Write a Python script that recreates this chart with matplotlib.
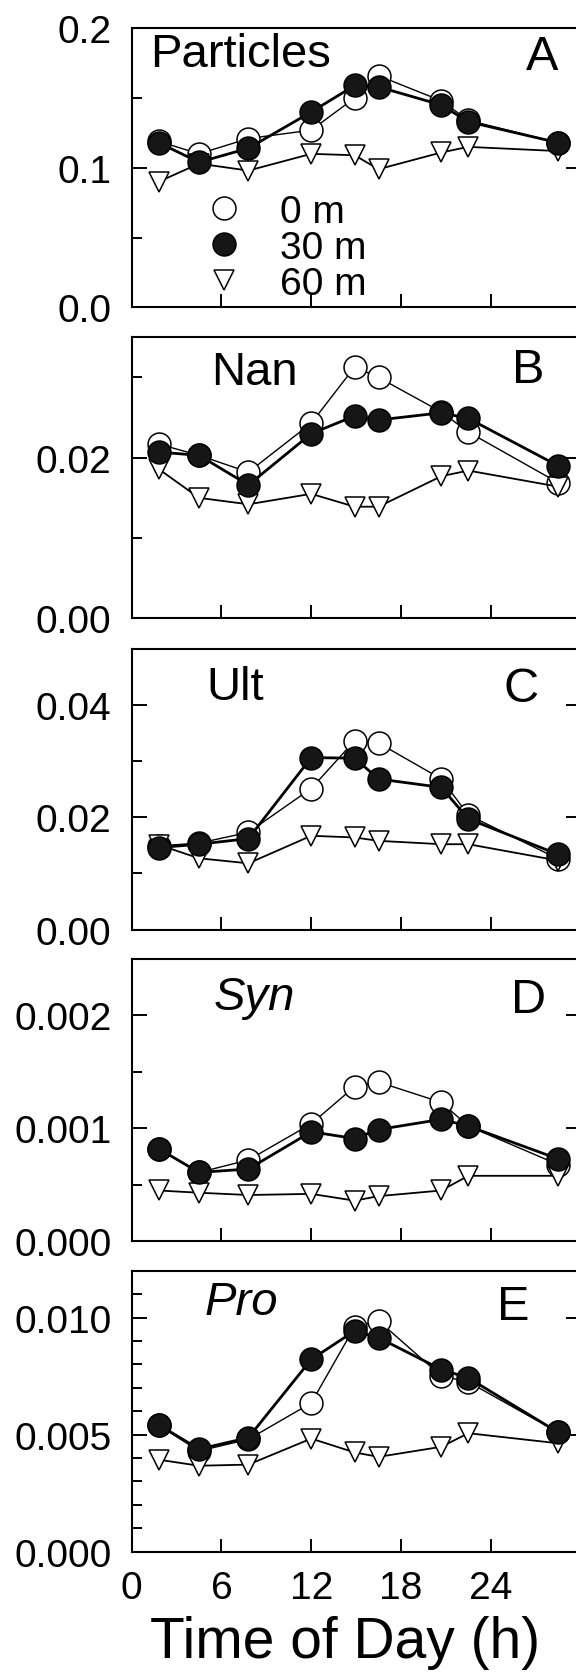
import matplotlib
matplotlib.use("Agg")
import matplotlib.pyplot as plt
from matplotlib.ticker import MultipleLocator, FormatStrFormatter
from matplotlib.lines import Line2D

plt.rcParams['font.family'] = ['Liberation Sans', 'DejaVu Sans']

# Sampling times (h)
hours = [1.8, 4.5, 7.8, 12.0, 14.9, 16.5, 20.7, 22.5, 28.5]
depth_labels = ['0 m', '30 m', '60 m']

# A: total particles
particles_0m = [0.119, 0.110, 0.121, 0.127, 0.150, 0.166, 0.148, 0.134, 0.118]
particles_30m = [0.118, 0.104, 0.114, 0.140, 0.159, 0.158, 0.145, 0.133, 0.118]
particles_60m = [0.090, 0.103, 0.098, 0.110, 0.109, 0.099, 0.111, 0.115, 0.112]

# B: nanoplankton
nan_0m = [0.0217, 0.0203, 0.0182, 0.0243, 0.0313, 0.0300, 0.0257, 0.0232, 0.0169]
nan_30m = [0.0207, 0.0203, 0.0166, 0.0230, 0.0252, 0.0247, 0.0256, 0.0249, 0.0190]
nan_60m = [0.0186, 0.0150, 0.0142, 0.0155, 0.0139, 0.0139, 0.0177, 0.0184, 0.0164]

# C: ultraplankton
ult_0m = [0.0149, 0.0154, 0.0173, 0.0251, 0.0336, 0.0332, 0.0268, 0.0204, 0.0126]
ult_30m = [0.0146, 0.0152, 0.0162, 0.0306, 0.0305, 0.0268, 0.0253, 0.0197, 0.0134]
ult_60m = [0.0151, 0.0127, 0.0118, 0.0167, 0.0164, 0.0158, 0.0152, 0.0152, 0.0123]

# D: Synechococcus
syn_0m = [0.00082, 0.00061, 0.00072, 0.00104, 0.00137, 0.00141, 0.00123, 0.00102, 0.00068]
syn_30m = [0.00082, 0.00061, 0.00064, 0.00097, 0.00091, 0.00099, 0.00108, 0.00102, 0.00073]
syn_60m = [0.00045, 0.00043, 0.00041, 0.00042, 0.00036, 0.00040, 0.00045, 0.00058, 0.00058]

# E: Prochlorococcus
pro_0m = [0.0054, 0.0043, 0.0048, 0.00635, 0.0096, 0.00986, 0.0075, 0.00725, 0.0051]
pro_30m = [0.00542, 0.00438, 0.00487, 0.00821, 0.00943, 0.00914, 0.00778, 0.00742, 0.0051]
pro_60m = [0.00393, 0.00367, 0.00372, 0.00483, 0.00424, 0.00405, 0.00448, 0.00506, 0.00463]

panel_names = ['Particles', 'Nan', 'Ult', 'Syn', 'Pro']
panel_letters = ['A', 'B', 'C', 'D', 'E']
x_ticks = [0, 6, 12, 18, 24]

series = [
    (particles_0m, particles_30m, particles_60m),
    (nan_0m, nan_30m, nan_60m),
    (ult_0m, ult_30m, ult_60m),
    (syn_0m, syn_30m, syn_60m),
    (pro_0m, pro_30m, pro_60m),
]

# per-panel axis settings: ylim top, labelled step, minor step, label format
axis_spec = [
    (0.2, 0.1, 0.05, '%.1f'),
    (0.035, 0.02, 0.01, '%.2f'),
    (0.05, 0.02, 0.01, '%.2f'),
    (0.0025, 0.001, 0.0005, '%.3f'),
    (0.012, 0.005, 0.001, '%.3f'),
]

# name / letter placement (x in hours, y in axes fraction), italic flag
text_spec = [
    (1.2, 0.908, 27.4, 0.899, False),
    (5.3, 0.875, 26.5, 0.884, False),
    (5.0, 0.864, 26.0, 0.859, False),
    (5.5, 0.867, 26.5, 0.858, True),
    (4.9, 0.890, 25.5, 0.871, True),
]

W, H = 576, 1674
fig = plt.figure(figsize=(W / 100, H / 100), dpi=100)
left_px, right_px = 131.7, 580.5
boxes = [(29.3, 308.3), (338.3, 619.3), (649.5, 930.7), (960.0, 1242.3), (1271.7, 1552.7)]

ms_circle = 16.5
ms_tri = 14
dark = '#161616'

for i, (top, bot) in enumerate(boxes):
    ax = fig.add_axes([left_px / W, 1 - bot / H, (right_px - left_px) / W, (bot - top) / H])
    y0, y30, y60 = series[i]
    ax.plot(hours, y0, color='black', lw=1.0, marker='o', ms=ms_circle,
            mfc='white', mec='black', mew=1.1, zorder=3)
    ax.plot(hours, y60, color='black', lw=1.3, marker='v', ms=ms_tri,
            mfc='white', mec='black', mew=1.1, zorder=4)
    ax.plot(hours, y30, color='black', lw=2.0, marker='o', ms=ms_circle,
            mfc=dark, mec='black', mew=1.1, zorder=5)

    ytop, ymaj, ymin, fmt = axis_spec[i]
    ax.set_xlim(0, 30)
    ax.set_ylim(0, ytop)
    ax.set_xticks(x_ticks)
    ax.yaxis.set_major_locator(MultipleLocator(ymaj))
    ax.yaxis.set_minor_locator(MultipleLocator(ymin))
    ax.yaxis.set_major_formatter(FormatStrFormatter(fmt))
    ax.tick_params(axis='y', which='major', direction='in', length=11, width=1.4,
                   left=True, right=True, labelsize=28, pad=14.5)
    ax.tick_params(axis='y', which='minor', direction='in', length=7, width=1.4,
                   left=True, right=False)
    ax.tick_params(axis='x', which='major', direction='in', length=9.5, width=1.4,
                   top=False, bottom=True, labelsize=28, pad=13)
    for s in ax.spines.values():
        s.set_linewidth(1.5)
    if i < 4:
        ax.tick_params(axis='x', labelbottom=False)

    nx, ny, lx, ly, ital = text_spec[i]
    tr = ax.get_xaxis_transform()
    ax.text(nx, ny, panel_names[i], transform=tr, ha='left', va='center',
            fontsize=34, style='italic' if ital else 'normal')
    ax.text(lx, ly, panel_letters[i], transform=tr, ha='center', va='center',
            fontsize=35)

    if i == 0:
        handles = [
            Line2D([], [], ls='none', marker='o', ms=ms_circle, mfc='white', mec='black', mew=1.1),
            Line2D([], [], ls='none', marker='o', ms=ms_circle, mfc=dark, mec='black', mew=1.1),
            Line2D([], [], ls='none', marker='v', ms=ms_tri, mfc='white', mec='black', mew=1.1),
        ]
        ax.legend(handles, depth_labels, loc='center left', bbox_to_anchor=(0.162, 0.214),
                  frameon=False, fontsize=28, handlelength=1.0, handletextpad=0.95,
                  labelspacing=0.0, borderpad=0, borderaxespad=0)

    if i == 4:
        ax.set_xlabel('Time of Day (h)', fontsize=41)
        ax.xaxis.label.set_va('center')
        ax.xaxis.set_label_coords(0.475, -0.322)

fig.savefig('out.png', dpi=100)
